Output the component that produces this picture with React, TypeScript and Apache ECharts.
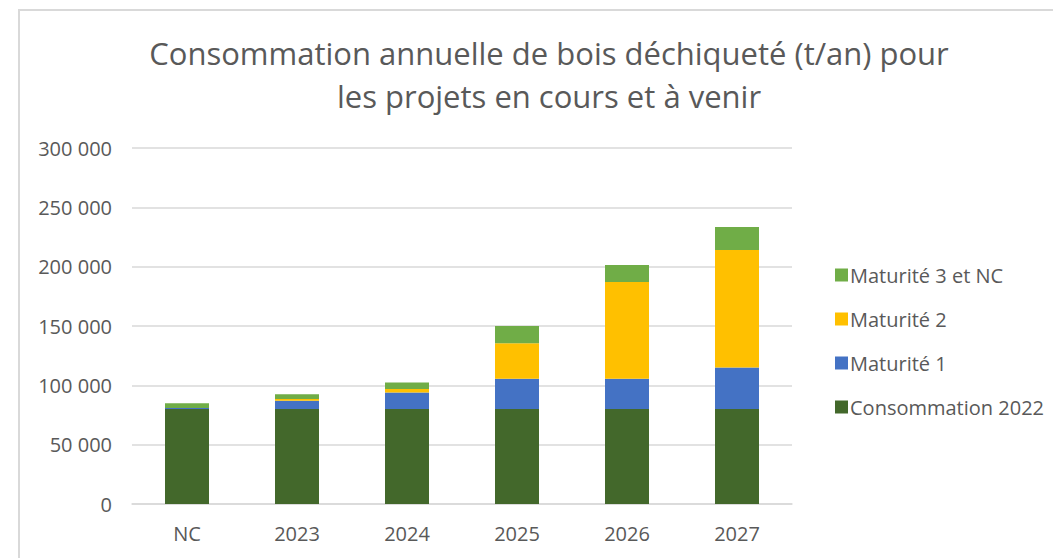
import React, { useEffect, useRef } from "react";
import * as echarts from "echarts";

const categories = ["NC", "2023", "2024", "2025", "2026", "2027"];
const conso2022 = [80000, 80000, 80000, 80000, 80000, 80000];
const maturite1 = [1000, 7000, 14000, 25500, 25500, 35000];
const maturite2 = [0, 1500, 3000, 30000, 81500, 99000];
const maturite3 = [4000, 4000, 5300, 14500, 14500, 19500];
const yTicks = { min: 0, max: 300000, interval: 50000 };

const FONT = "'Open Sans', 'Noto Sans', sans-serif";
const TXT = "#595959";

export default function App() {
  const ref = useRef<HTMLDivElement>(null);
  useEffect(() => {
    const chart = echarts.init(ref.current!, null, { renderer: "svg" });
    const fmt = (v: number) => String(v).replace(/\B(?=(\d{3})+(?!\d))/g, " ");
    const mk = (name: string, data: number[], color: string) => ({
      name,
      type: "bar",
      stack: "total",
      data,
      barWidth: "40%",
      itemStyle: { color },
      emphasis: { disabled: true },
    });
    chart.setOption({
      animation: false,
      title: {
        text: "Consommation annuelle de bois déchiqueté (t/an) pour\nles projets en cours et à venir",
        left: 544,
        textAlign: "center",
        top: 26,
        textStyle: {
          fontFamily: FONT,
          fontSize: 31,
          fontWeight: "normal",
          color: TXT,
          lineHeight: 43,
        },
      },
      graphic: [
        {
          type: "rect",
          shape: { x: 19, y: 10, width: 1200, height: 700 },
          style: { fill: "none", stroke: "#d9d9d9", lineWidth: 2 },
          silent: true,
        },
      ],
      grid: { left: 132, right: 261, top: 148, bottom: 54 },
      legend: {
        orient: "vertical",
        left: 830,
        top: 260,
        itemWidth: 13,
        itemHeight: 13,
        itemGap: 24,
        icon: "rect",
        data: ["Maturité 3 et NC", "Maturité 2", "Maturité 1", "Consommation 2022"],
        textStyle: { fontFamily: FONT, fontSize: 20, color: TXT, padding: [0, 0, 0, -3] },
      },
      xAxis: {
        type: "category",
        data: categories,
        axisLine: { lineStyle: { color: "#d9d9d9", width: 1.5 } },
        axisTick: { show: false },
        axisLabel: { fontFamily: FONT, fontSize: 20, color: TXT, margin: 19 },
      },
      yAxis: {
        type: "value",
        min: yTicks.min,
        max: yTicks.max,
        interval: yTicks.interval,
        axisLine: { show: false },
        axisTick: { show: false },
        splitLine: { lineStyle: { color: "#d9d9d9", width: 1.5 } },
        axisLabel: { fontFamily: FONT, fontSize: 20, color: TXT, margin: 20, formatter: fmt },
      },
      series: [
        mk("Consommation 2022", conso2022, "#43682b"),
        mk("Maturité 1", maturite1, "#4472c4"),
        mk("Maturité 2", maturite2, "#ffc000"),
        mk("Maturité 3 et NC", maturite3, "#70ad47"),
      ],
    });
    return () => chart.dispose();
  }, []);
  return (
    <div
      ref={ref}
      style={{ position: "absolute", left: 0, top: 0, width: 1053, height: 558, background: "#fff" }}
    />
  );
}
